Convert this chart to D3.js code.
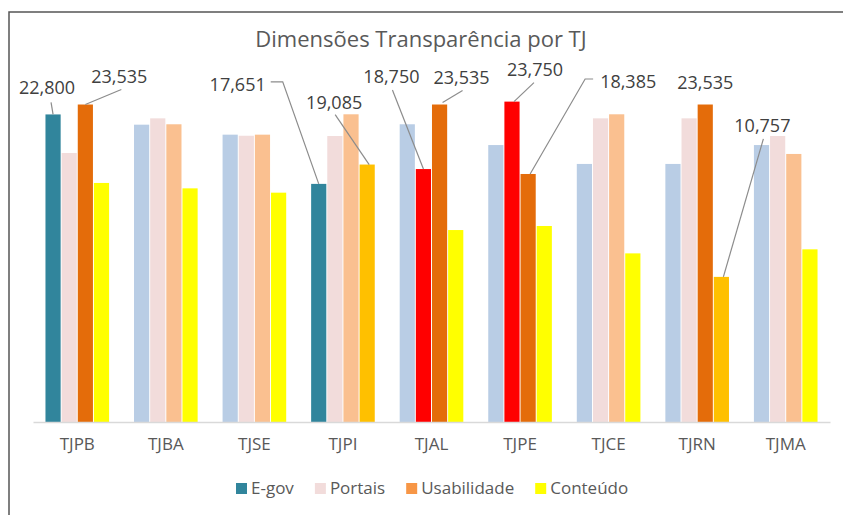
<!DOCTYPE html>
<html>
<head>
    <meta charset="utf-8">
    <style>
        body { margin: 0; background: #fff; }
        text { font-family: "Open Sans", Lato, sans-serif; }
    </style>
</head>
<body>
    <svg width="843" height="515"></svg>
    <script src="https://d3js.org/d3.v7.min.js"></script>
    <script>
        let categories = ["TJPB", "TJBA", "TJSE", "TJPI", "TJAL", "TJPE", "TJCE", "TJRN", "TJMA"];
        let series = ["E-gov", "Portais", "Usabilidade", "Conteúdo"];

        let egov        = [22.800, 22.04, 21.30, 17.651, 22.07, 20.53, 19.13, 19.13, 20.53];
        let portais     = [19.94, 22.51, 21.22, 21.20, 18.750, 23.750, 22.51, 22.51, 21.20];
        let usabilidade = [23.535, 22.07, 21.30, 22.81, 23.535, 18.385, 22.81, 23.535, 19.87];
        let conteudo    = [17.72, 17.32, 17.00, 19.085, 14.23, 14.53, 12.50, 10.757, 12.80];

        // bars that are highlighted and labelled: [category index, series index]
        let highlighted = [[0, 0], [0, 2], [3, 0], [3, 3], [4, 1], [4, 2], [5, 1], [5, 2], [7, 2], [7, 3]];

        let baseColors = ["#b9cde5", "#f2dcdb", "#fac090", "#ffff00"];
        let highColors = ["#31859c", "#ff0000", "#e46c0a", "#ffc000"];
        let legendColors = ["#31859c", "#f2dcdb", "#f79646", "#ffff00"];

        // label placement relative to bar top: text centre offset and leader line points
        let labelLayout = [
            { dx: -6, dy: -27, anchor: "middle", line: [[-2, -12], [0, 0]] },
            { dx: 34, dy: -28, anchor: "middle", line: [[36, -15], [0, 0]] },
            { dx: -53, dy: -99, anchor: "end", line: [[-48, -102], [-36, -102], [0, 0]] },
            { dx: -33, dy: -62, anchor: "middle", line: [[-32, -50], [2, 0]] },
            { dx: -32, dy: -92, anchor: "middle", line: [[-31, -79], [0, 0]] },
            { dx: 22, dy: -27, anchor: "middle", line: [[23, -14], [3, -2]] },
            { dx: 23, dy: -32, anchor: "middle", line: [[22, -19], [2, 0]] },
            { dx: 72, dy: -92, anchor: "start", line: [[65, -95], [57, -95], [2, 0]] },
            { dx: 0, dy: -22, anchor: "middle", line: null },
            { dx: 41, dy: -151, anchor: "middle", line: [[42, -138], [2, 0]] }
        ];

        let values = [egov, portais, usabilidade, conteudo];
        let svg = d3.select("svg");

        // frame
        svg.append("path")
            .attr("d", "M9,515 L9,12 L843,12")
            .attr("fill", "none")
            .attr("stroke", "#555")
            .attr("stroke-width", 1.5);

        svg.append("text")
            .attr("x", 421).attr("y", 47)
            .attr("text-anchor", "middle")
            .attr("font-size", 22)
            .attr("fill", "#595959")
            .text("Dimensões Transparência por TJ");

        let x0 = d3.scaleBand().domain(categories).range([33, 830]);
        let x1 = d3.scaleBand().domain(d3.range(series.length))
            .range([11.5, x0.bandwidth() - 11.5]).padding(0.06);
        let y = d3.scaleLinear().domain([0, 25]).range([422, 84.75]);

        let isHigh = function(c, s) {
            return highlighted.some(function(h) { return h[0] === c && h[1] === s; });
        };

        let bars = [];
        categories.forEach(function(cat, c) {
            series.forEach(function(ser, s) {
                bars.push({ c: c, s: s, cat: cat, v: values[s][c] });
            });
        });

        svg.append("g").selectAll("rect")
            .data(bars)
            .enter().append("rect")
            .attr("x", function(d) { return x0(d.cat) + x1(d.s); })
            .attr("y", function(d) { return y(d.v); })
            .attr("width", x1.bandwidth())
            .attr("height", function(d) { return y(0) - y(d.v); })
            .attr("fill", function(d) { return isHigh(d.c, d.s) ? highColors[d.s] : baseColors[d.s]; });

        // baseline and category axis
        let xAxis = d3.axisBottom(x0).tickSize(0).tickPadding(16);
        let axisG = svg.append("g").attr("transform", "translate(0," + y(0) + ")").call(xAxis);
        axisG.select(".domain").attr("stroke", "#d9d9d9").attr("stroke-width", 1.5);
        axisG.selectAll("text")
            .attr("font-size", 17)
            .attr("fill", "#595959")
            .style("font-family", "'Open Sans', sans-serif");

        // labels with leader lines
        let fmt = function(v) { return d3.format(".3f")(v).replace(".", ","); };
        let labelG = svg.append("g");
        highlighted.forEach(function(h, i) {
            let c = h[0], s = h[1];
            let bx = x0(categories[c]) + x1(s) + x1.bandwidth() / 2;
            let by = y(values[s][c]);
            let lay = labelLayout[i];
            if (lay.line) {
                labelG.append("path")
                    .attr("d", d3.line()(lay.line.map(function(p) { return [bx + p[0], by + p[1]]; })))
                    .attr("fill", "none")
                    .attr("stroke", "#8c8c8c")
                    .attr("stroke-width", 1.2);
            }
            labelG.append("text")
                .attr("x", bx + lay.dx)
                .attr("y", by + lay.dy)
                .attr("dy", "0.35em")
                .attr("text-anchor", lay.anchor)
                .attr("font-size", 18)
                .attr("fill", "#404040")
                .text(fmt(values[s][c]));
        });

        // legend
        let legend = svg.append("g").attr("transform", "translate(236,488)");
        let lx = 0;
        series.forEach(function(name, i) {
            let item = legend.append("g").attr("transform", "translate(" + lx + ",0)");
            item.append("rect")
                .attr("x", 0).attr("y", -5)
                .attr("width", 11).attr("height", 11)
                .attr("fill", legendColors[i]);
            let t = item.append("text")
                .attr("x", 15).attr("y", 0)
                .attr("dy", "0.35em")
                .attr("font-size", 17)
                .attr("fill", "#595959")
                .text(name);
            lx += 15 + t.node().getComputedTextLength() + 21;
        });
    </script>
</body>
</html>
